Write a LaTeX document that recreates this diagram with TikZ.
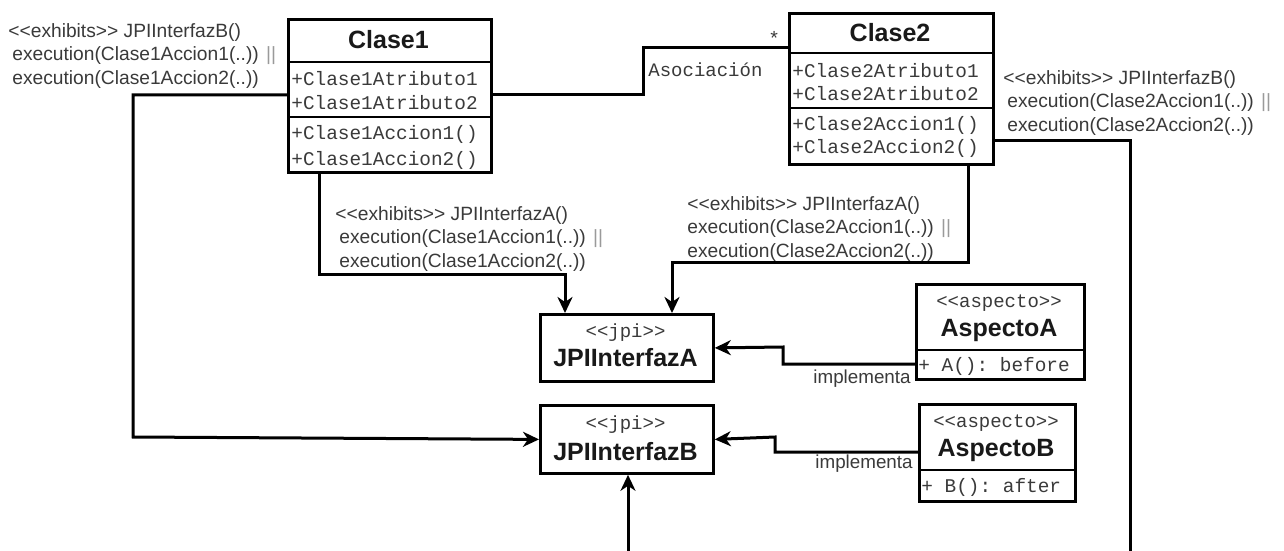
\documentclass[tikz,border=0pt]{standalone}
\usepackage{fontspec}
\setmainfont{Liberation Sans}
\setmonofont{Liberation Mono}
\usetikzlibrary{arrows.meta}
\newlength\px \setlength\px{0.5pt}
\definecolor{txt}{HTML}{3A3A3A}
\definecolor{bars}{HTML}{9A9A9A}
\newcommand\exh{<{}<exhibits>{}>}
\begin{document}
\begin{tikzpicture}[x=0.5pt,y=-0.5pt,
  box/.style={draw=black, line width=1.4pt, inner sep=0pt, anchor=north west, fill=white},
  ttl/.style={font=\fontsize{12.5}{14}\selectfont\bfseries, text=black!90, inner sep=0pt},
  mem/.style={font=\ttfamily\fontsize{9.7}{11}\selectfont, text=txt, anchor=west, inner sep=0pt},
  ster/.style={font=\ttfamily\fontsize{9.5}{11}\selectfont, text=txt, inner sep=0pt},
  note/.style={font=\fontsize{9.6}{11.8}\selectfont, text=txt, align=left, anchor=west, inner sep=0pt},
  lab/.style={font=\fontsize{9.4}{11}\selectfont, text=txt, inner sep=0pt},
  sep/.style={line width=1.4pt, black},
  conn/.style={line width=1.5pt, black},
  arr/.style={conn, -{Stealth[length=8pt,width=7.5pt,inset=2.5pt]}}
]
\useasboundingbox (0,0) rectangle (1284,551);
\clip (0,0) rectangle (1284,551);
\fill[white] (0,0) rectangle (1284,551);

% ---------- boxes ----------
\node[box, minimum width=203\px, minimum height=153\px] (c1) at (287,18) {};
\node[box, minimum width=204\px, minimum height=151\px] (c2) at (788,12) {};
\node[box, minimum width=173\px, minimum height=67\px] (jpiA) at (539,313) {};
\node[box, minimum width=173\px, minimum height=68\px] (jpiB) at (539,404) {};
\node[box, minimum width=168\px, minimum height=95\px] (aA) at (915,283) {};
\node[box, minimum width=156\px, minimum height=97\px] (aB) at (918,403) {};

% separators
\draw[sep] (287,62) -- (490,62);
\draw[sep] (287,117) -- (490,117);
\draw[sep] (788,53) -- (992,53);
\draw[sep] (788,108) -- (992,108);
\draw[sep] (915,350) -- (1083,350);
\draw[sep] (918,470) -- (1074,470);

% ---------- box texts ----------
\node[ttl] (c1t) at (388.5,40) {Clase1};
\node[mem] (c1a1) at (291,79) {+Clase1Atributo1};
\node[mem] (c1a2) at (291,103) {+Clase1Atributo2};
\node[mem] (c1m1) at (291,134) {+Clase1Accion1()};
\node[mem] (c1m2) at (291,160) {+Clase1Accion2()};

\node[ttl] (c2t) at (890,33) {Clase2};
\node[mem] (c2a1) at (792,71) {+Clase2Atributo1};
\node[mem] (c2a2) at (792,94) {+Clase2Atributo2};
\node[mem] (c2m1) at (792,125) {+Clase2Accion1()};
\node[mem] (c2m2) at (792,148) {+Clase2Accion2()};

\node[ster] (jpiAs) at (625.5,333) {<<jpi>>};
\node[ttl] (jpiAt) at (625.5,358) {JPIInterfazA};
\node[ster] (jpiBs) at (625.5,425) {<<jpi>>};
\node[ttl] (jpiBt) at (625.5,452) {JPIInterfazB};

\node[ster] (aAs) at (999,303) {<<aspecto>>};
\node[ttl] (aAt) at (999,330) {AspectoA};
\node[mem] (aAm) at (918,366) {+ A(): before};
\node[ster] (aBs) at (996,423) {<<aspecto>>};
\node[ttl] (aBt) at (996,450) {AspectoB};
\node[mem] (aBm) at (921,487) {+ B(): after};

% ---------- connectors ----------
\draw[conn] (c1.east |- 0,95) -| (643,48) -- (c2.west |- 0,48);
\draw[arr] (c1.west |- 0,95) -| (133,437) -- (jpiB.west);
\draw[arr] (c1.south -| 319,0) -- (319,274) -| (jpiA.north -| 565,0);
\draw[arr] (c2.south -| 968,0) -- (968,262) -| (jpiA.north -| 672,0);
\draw[arr] (c2.east |- 0,140) -| (1130,600) -| (jpiB.south -| 628,0);
\draw[arr] (aA.west |- 0,364) -| (783,347) -- (jpiA.east);
\draw[arr] (aB.west |- 0,452) -| (775,437) -- (jpiB.east);

% ---------- labels ----------
\node[mem] (star) at (768,38) {*};
\node[mem, font=\ttfamily\fontsize{9.5}{11}\selectfont] (asoc) at (648,70) {Asociación};
\node[lab, anchor=east] (implA) at (911,379) {implementa};
\node[lab, anchor=east] (implB) at (913,464) {implementa};

\node[note] (nB1) at (8,56) {\exh{} JPIInterfazB()\\
\hspace{2pt}execution(Clase1Accion1(..)) {\color{bars}||}\\
\hspace{2pt}execution(Clase1Accion2(..))};
\node[note] (nA1) at (335,239) {\exh{} JPIInterfazA()\\
\hspace{2pt}execution(Clase1Accion1(..)) {\color{bars}||}\\
\hspace{2pt}execution(Clase1Accion2(..))};
\node[note] (nA2) at (687,229) {\exh{} JPIInterfazA()\\
execution(Clase2Accion1(..)) {\color{bars}||}\\
execution(Clase2Accion2(..))};
\node[note] (nB2) at (1003,103) {\exh{} JPIInterfazB()\\
\hspace{2pt}execution(Clase2Accion1(..)) {\color{bars}||}\\
\hspace{2pt}execution(Clase2Accion2(..))};
\end{tikzpicture}
\end{document}
